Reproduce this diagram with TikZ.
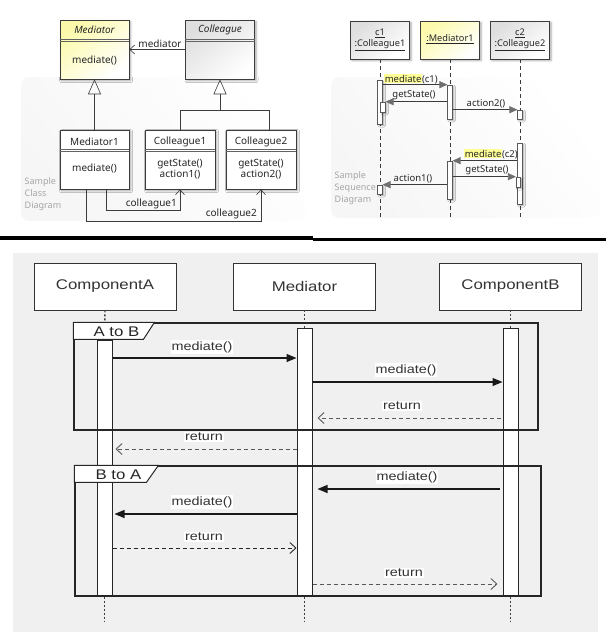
\documentclass[tikz,border=0pt]{standalone}
\usepackage{fontspec}
\setmainfont{Noto Sans}
\newfontfamily\seqsans[FakeStretch=1.2]{Liberation Sans}
\usetikzlibrary{arrows.meta,shadows.blur}

\definecolor{panelgray}{RGB}{240,240,240}
\definecolor{ink}{RGB}{60,60,60}
\definecolor{hilite}{RGB}{255,255,150}
\definecolor{faint}{RGB}{165,165,165}
\definecolor{medyellow}{RGB}{252,250,170}
\definecolor{colgray}{RGB}{222,222,222}
\definecolor{tipgray}{RGB}{110,110,110}

\newcommand{\hlword}[1]{{\setlength{\fboxsep}{0.6pt}\colorbox{hilite}{#1}}}

\begin{document}
\begin{tikzpicture}[x=1pt,y=-1pt,
  softshadow/.style={blur shadow={shadow xshift=1.6pt, shadow yshift=-1.6pt,
      shadow blur radius=2pt, shadow blur steps=6, shadow opacity=35}},
  % class diagram
  cbox/.style={draw=ink, line width=0.6pt, fill=white, minimum width=69pt,
      minimum height=59pt, inner sep=0pt, softshadow},
  cline/.style={draw=ink!80, line width=0.5pt},
  ctext/.style={font=\fontsize{10}{12}\selectfont, text=black!85, inner sep=0pt},
  citext/.style={ctext, font=\fontsize{10}{12}\selectfont\itshape},
  conn/.style={draw=ink, line width=0.6pt},
  assoc/.style={conn, -{Straight Barb[length=5pt,width=9pt,line width=0.6pt]}},
  gen/.style={conn, -{Triangle[open,length=15pt,width=13pt,line width=0.6pt]}},
  note/.style={font=\fontsize{9}{12}\selectfont, text=faint, align=left, inner sep=0pt},
  panel/.style={rounded corners=8pt, top color=white, bottom color=gray!7, shading angle=-50},
  % sequence diagram (top)
  sbox/.style={draw=ink, line width=0.6pt, minimum width=59pt, minimum height=38pt,
      inner sep=0pt, softshadow},
  stext/.style={font=\fontsize{9.2}{11}\selectfont, text=black!85, inner sep=0pt},
  life/.style={draw=ink, line width=0.6pt, dash pattern=on 4pt off 3pt},
  bar/.style={draw=ink!85, line width=0.6pt, fill=white, minimum width=4.5pt,
      inner sep=0pt, blur shadow={shadow xshift=1.5pt, shadow yshift=-1.5pt,
      shadow blur radius=1.5pt, shadow blur steps=5, shadow opacity=35}},
  smsg/.style={draw=ink, line width=0.7pt, -{Triangle[length=8pt,width=7pt,color=tipgray]}},
  slabel/.style={font=\fontsize{9.5}{11}\selectfont, text=black!85, inner sep=0pt},
  % sequence diagram (bottom)
  bbox/.style={draw=black!80, line width=0.9pt, fill=white, minimum width=142pt,
      minimum height=47pt, inner sep=0pt, font=\seqsans\fontsize{14}{16}\selectfont, text=black!80},
  blife/.style={draw=black!75, line width=1.4pt, dash pattern=on 2pt off 2pt},
  bact/.style={draw=black!85, line width=1pt, fill=white, minimum width=15pt, inner sep=0pt},
  fbox/.style={draw=black!85, line width=1.2pt, inner sep=0pt},
  tabshape/.style={draw=black!85, line width=1pt, fill=white},
  tabtext/.style={font=\seqsans\fontsize{14}{16}\selectfont, text=black!85, inner sep=0pt},
  call/.style={draw=black!90, line width=1.2pt, -{Triangle[length=10pt,width=8pt]}},
  ret/.style={draw=black!65, line width=0.9pt, dash pattern=on 4pt off 3pt,
      -{Straight Barb[length=6pt,width=11pt,line width=0.9pt]}},
  blabel/.style={fill=white, inner sep=1pt, font=\seqsans\fontsize{12}{14}\selectfont, text=black!80}
]
\useasboundingbox (0,0) rectangle (606,635);

% ---------------- class diagram ----------------
\shade[panel] (21,77) rectangle (305,221);

\node[cbox, top color=medyellow, bottom color=white, shading angle=40] (med) at (94.5,49.5) {};
\node[cbox, top color=colgray, bottom color=white, shading angle=40] (col) at (220,49.5) {};
\node[cbox] (med1) at (94.5,159.5) {};
\node[cbox, minimum width=70pt] (col1) at (180,159.5) {};
\node[cbox, minimum width=70pt] (col2) at (261,159.5) {};

\foreach \b in {med,col,med1,col1,col2} {
  \draw[cline] ([yshift=-19.5pt]\b.north west) -- ([yshift=-19.5pt]\b.north east);
  \draw[cline] ([yshift=-21.5pt]\b.north west) -- ([yshift=-21.5pt]\b.north east);
}

\node[citext] (medT) at (94.5,29.5) {Mediator};
\node[ctext] (medOp) at (94.5,60) {mediate()};
\node[citext] (colT) at (220,29.5) {Colleague};
\node[ctext] (med1T) at (94.5,141.5) {Mediator1};
\node[ctext] (med1Op) at (94.5,168.5) {mediate()};
\node[ctext] (col1T) at (180,141.5) {Colleague1};
\node[ctext] (col1OpA) at (180,164) {getState()};
\node[ctext] (col1OpB) at (180,175) {action1()};
\node[ctext] (col2T) at (261,141.5) {Colleague2};
\node[ctext] (col2OpA) at (261,164) {getState()};
\node[ctext] (col2OpB) at (261,175) {action2()};

\draw[assoc] (col.west) -- (med.east);
\node[ctext] (assocL) at (160,44) {mediator};

\draw[gen] (med1.north) -- (med.south);
\coordinate (jn) at (220,110);
\draw[conn] (col1.north) |- (jn);
\draw[conn] ([xshift=8pt]col2.north) |- (jn);
\draw[gen] (jn) -- (col.south);

\coordinate (k1) at (180,210);
\draw[assoc] ([xshift=11.5pt]med1.south) |- (k1) -- (col1.south);
\coordinate (k2) at (261,221);
\draw[assoc] ([xshift=-8.5pt]med1.south) |- (k2) -- (col2.south);
\node[ctext, anchor=east] (lc1) at (177,203.5) {colleague1};
\node[ctext, anchor=east] (lc2) at (257,213.5) {colleague2};

\node[note, anchor=north west] (cnote) at (24.5,177.5) {Sample\\Class\\Diagram};

% ---------------- sequence diagram (top) ----------------
\shade[panel] (331,77) rectangle (600,218);

\node[sbox, top color=colgray, bottom color=white, shading angle=40] (sc1) at (380,40) {};
\node[sbox, top color=medyellow, bottom color=white, shading angle=40] (sm1) at (450,40) {};
\node[sbox, top color=colgray, bottom color=white, shading angle=40] (sc2) at (520,40) {};
\node[stext] (sc1a) at (380,33) {\underline{c1}};
\node[stext] (sc1b) at (380,45) {\underline{:Colleague1}};
\node[stext] (sm1a) at (450,39) {\underline{:Mediator1}};
\node[stext] (sc2a) at (520,33) {\underline{c2}};
\node[stext] (sc2b) at (520,45) {\underline{:Colleague2}};

\coordinate (e1) at (380,220);
\coordinate (e2) at (450,220);
\coordinate (e3) at (520,220);
\draw[life] (sc1.south) -- (e1);
\draw[life] (sm1.south) -- (e2);
\draw[life] (sc2.south) -- (e3);

\node[bar, minimum height=44pt] (a1) at (380,102) {};
\node[bar, minimum height=10pt] (a1n) at (383,107) {};
\node[bar, minimum height=34pt] (b1) at (450,102) {};
\node[bar, minimum height=9pt] (d1) at (520,114.5) {};
\node[bar, minimum height=61pt] (d2) at (520,173.5) {};
\node[bar, minimum height=38pt] (b2) at (450,180) {};
\node[bar, minimum height=10pt] (d2n) at (518.5,182) {};
\node[bar, minimum height=9pt] (a2) at (380,189.5) {};

\draw[smsg] (a1.east |- b1.north) -- (b1.north west);
\node[slabel] (s1) at (411,79) {\hlword{mediate}(c1)};
\draw[smsg] (b1.west |- a1n.north) -- (a1n.north east);
\node[slabel] (s2) at (414,95) {getState()};
\draw[smsg] (b1.east |- d1.north) -- (d1.north west);
\node[slabel] (s3) at (486,103.5) {action2()};
\draw[smsg] (d2.west |- b2.north) -- (b2.north east);
\node[slabel] (s4) at (491,154) {\hlword{mediate}(c2)};
\draw[smsg] (b2.east |- d2n.north) -- (d2n.north west);
\node[slabel] (s5) at (487,170.5) {getState()};
\draw[smsg] (b2.west |- a2.north) -- (a2.north east);
\node[slabel] (s6) at (413,178.5) {action1()};

\node[note, anchor=north west] (snote) at (334.5,171.5) {Sample\\Sequence\\Diagram};

% ---------------- separator ----------------
\coordinate (sepL) at (0,238);
\coordinate (sepM) at (313,238);
\coordinate (sepM2) at (313,239.5);
\coordinate (sepR) at (606,239.5);
\draw[line width=4pt] (sepL) -- (sepM);
\draw[line width=3.4pt] (sepM2) -- (sepR);

% ---------------- sequence diagram (bottom) ----------------
\fill[panelgray] (13,253) rectangle (598,632);

\node[bbox] (ca) at (105,286.5) {ComponentA};
\node[bbox] (mb) at (304.5,286.5) {Mediator};
\node[bbox] (cb) at (510.5,286.5) {ComponentB};

\node[bact, minimum height=256pt] (aA) at (104.5,468) {};
\node[bact, minimum height=268pt] (aM) at (304.5,462) {};
\node[bact, minimum height=268pt] (aB) at (510.5,462) {};

\coordinate (eA) at (104.5,621);
\coordinate (eM) at (304.5,621);
\coordinate (eB) at (510.5,621);
\draw[blife] (ca.south) -- (aA.north);
\draw[blife] (mb.south) -- (aM.north);
\draw[blife] (cb.south) -- (aB.north);
\draw[blife] (aA.south) -- (eA);
\draw[blife] (aM.south) -- (eM);
\draw[blife] (aB.south) -- (eB);

\node[fbox, minimum width=464pt, minimum height=107pt] (fab) at (306,376.5) {};
\node[fbox, minimum width=466pt, minimum height=130pt] (fba) at (308,531) {};
\draw[tabshape] (fab.north west) -- ([xshift=81pt]fab.north west)
  -- ([xshift=70pt,yshift=-17pt]fab.north west) -- ([yshift=-17pt]fab.north west) -- cycle;
\node[tabtext] (tab1) at (116.5,331.5) {A to B};
\draw[tabshape] (fba.north west) -- ([xshift=84pt]fba.north west)
  -- ([xshift=72pt,yshift=-17pt]fba.north west) -- ([yshift=-17pt]fba.north west) -- cycle;
\node[tabtext] (tab2) at (118.5,474.5) {B to A};

\coordinate (y1) at (0,358);
\coordinate (y2) at (0,382);
\coordinate (y3) at (0,418);
\coordinate (y4) at (0,449);
\coordinate (y5) at (0,489);
\coordinate (y6) at (0,514);
\coordinate (y7) at (0,548);
\coordinate (y8) at (0,584);

\draw[call] (aA.east |- y1) -- (aM.west |- y1);
\node[blabel] (t1) at (202,347) {mediate()};
\draw[call] (aM.east |- y2) -- (aB.west |- y2);
\node[blabel] (t2) at (406,370) {mediate()};
\draw[ret, shorten <=2pt, shorten >=5pt] (aB.west |- y3) -- (aM.east |- y3);
\node[blabel] (t3) at (402,406) {return};
\draw[ret, shorten >=3pt] (aM.west |- y4) -- (aA.east |- y4);
\node[blabel] (t4) at (204,437) {return};
\draw[call, shorten <=3pt, shorten >=5pt] (aB.west |- y5) -- (aM.east |- y5);
\node[blabel] (t5) at (407,477) {mediate()};
\draw[call, shorten >=2pt] (aM.west |- y6) -- (aA.east |- y6);
\node[blabel] (t6) at (202,502) {mediate()};
\draw[ret, draw=black!85] (aA.east |- y7) -- (aM.west |- y7);
\node[blabel] (t7) at (204,537) {return};
\draw[ret, shorten >=5pt] (aM.east |- y8) -- (aB.west |- y8);
\node[blabel] (t8) at (404,573) {return};

\end{tikzpicture}
\end{document}
